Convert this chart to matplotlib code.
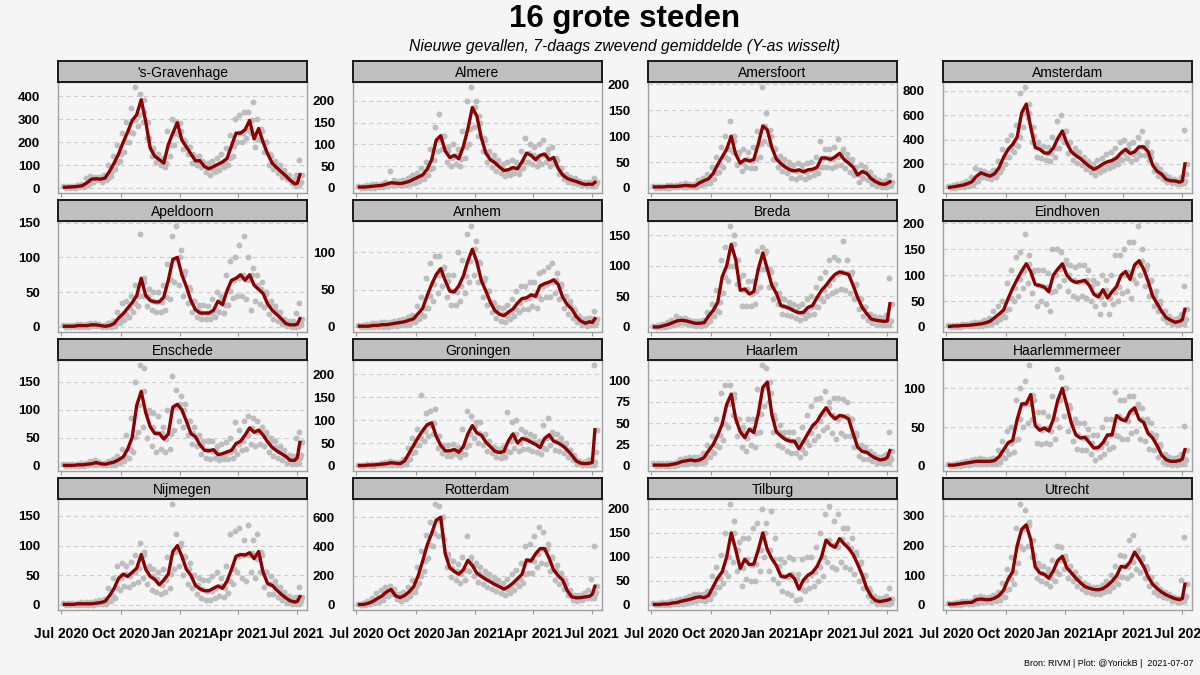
import matplotlib
matplotlib.use('Agg')
import matplotlib.pyplot as plt
import matplotlib.dates as mdates
from matplotlib.ticker import MultipleLocator
import numpy as np
import pandas as pd

plt.rcParams['font.family'] = ['Liberation Sans', 'DejaVu Sans']

# weekly sample dates, last two points catch the final uptick
weeks = list(pd.date_range('2020-07-06', '2021-06-28', freq='7D')) + \
    [pd.Timestamp('2021-07-02'), pd.Timestamp('2021-07-06')]

# 7-day average (line), upper and lower spread of the daily dots
gravenhage_avg = [5,6,7,9,12,25,40,42,40,45,75,110,150,200,245,295,320,385,290,175,140,125,110,190,240,285,210,180,150,120,120,95,85,95,105,115,130,185,240,240,255,295,215,260,200,150,110,90,72,55,35,20,22,60]
gravenhage_hi = [10,10,12,15,20,45,55,50,50,60,100,140,190,240,290,350,440,410,330,220,170,150,130,250,300,290,250,200,180,140,140,115,110,120,130,150,175,230,300,320,330,330,375,300,250,200,140,120,100,80,60,35,60,125]
gravenhage_lo = [2,3,3,5,8,15,30,35,30,35,55,85,120,160,200,240,270,290,220,140,115,100,95,140,190,230,170,150,110,100,95,70,60,70,80,95,100,140,200,200,220,240,180,210,160,100,85,65,50,40,25,12,15,30]

almere_avg = [2,2,3,4,5,6,9,12,11,10,12,15,20,25,30,43,65,110,120,85,70,75,67,95,135,185,165,115,80,65,58,48,40,42,47,44,60,80,75,65,75,78,65,70,45,30,22,18,15,11,8,9,8,13]
almere_hi = [4,5,6,8,10,10,14,40,18,16,18,22,30,35,45,60,90,140,170,120,95,100,90,130,200,232,200,150,110,85,75,65,55,60,65,60,85,115,100,95,100,110,90,95,65,45,32,25,22,17,14,14,14,22]
almere_lo = [0,0,1,1,2,3,5,7,6,6,7,9,12,16,20,30,45,85,90,60,50,55,50,70,100,140,120,85,60,48,40,35,28,30,35,32,45,60,55,50,55,60,50,55,32,20,14,12,9,6,4,5,5,8]

amersfoort_avg = [2,2,2,3,3,3,4,5,4,4,10,14,18,28,45,60,75,100,65,48,55,52,55,85,120,112,78,56,47,40,35,33,35,31,35,36,40,58,58,55,60,67,55,48,40,25,32,28,18,12,8,7,9,12]
amersfoort_hi = [4,4,4,5,6,6,8,9,8,8,16,20,26,40,60,80,100,130,90,70,75,70,80,110,195,145,100,75,62,55,50,45,48,45,48,50,60,90,75,75,80,95,75,65,55,40,45,40,30,22,16,12,15,25]
amersfoort_lo = [0,0,0,0,1,1,1,2,1,1,5,8,10,18,30,40,55,70,45,33,40,38,38,60,90,85,55,40,33,28,20,18,22,18,22,25,28,40,40,38,42,45,38,30,25,12,20,15,8,4,2,2,3,5]

amsterdam_avg = [8,13,20,26,38,55,100,127,112,100,120,170,255,320,360,420,620,690,500,335,320,290,288,330,410,470,370,300,268,244,210,180,155,175,200,218,228,250,290,320,285,300,340,340,300,190,140,115,73,62,60,50,60,200]
amsterdam_hi = [20,25,35,45,60,90,170,150,140,125,150,220,320,400,440,520,780,830,620,430,380,350,340,420,550,600,470,380,330,300,260,220,200,230,250,280,300,330,380,400,360,380,420,470,380,260,190,160,110,90,75,70,90,480]
amsterdam_lo = [3,5,8,12,20,30,60,95,85,75,90,130,200,260,300,350,500,580,380,260,250,230,220,260,330,380,290,230,210,190,160,130,110,130,150,165,180,200,230,250,220,240,270,270,230,140,100,80,50,40,35,32,40,120]

apeldoorn_avg = [1,1,1,2,2,2,3,3,2,1,2,5,13,19,27,35,45,70,45,38,36,36,43,67,97,100,75,58,38,25,20,20,20,24,37,32,52,67,70,75,67,75,60,54,48,33,24,18,12,5,3,3,4,12]
apeldoorn_hi = [3,3,3,4,4,4,5,5,4,3,5,9,22,35,38,45,60,133,65,55,50,50,60,90,130,145,110,80,55,38,32,32,30,40,50,45,75,95,100,118,130,100,85,75,65,50,38,30,22,12,8,8,20,35]
apeldoorn_lo = [0,0,0,0,0,0,1,1,0,0,0,2,6,10,15,22,30,45,30,25,22,22,25,40,65,60,45,35,22,15,12,12,12,14,22,20,32,42,45,45,40,25,38,33,28,18,12,8,4,1,0,0,1,4]

arnhem_avg = [1,1,1,2,2,3,3,4,5,6,7,9,11,18,25,42,57,70,78,62,48,47,55,68,88,104,87,62,48,33,22,17,15,20,24,32,38,39,43,41,55,58,60,63,57,40,30,24,14,8,5,7,6,11]
arnhem_hi = [3,3,4,5,5,6,7,7,8,9,10,13,16,28,40,65,85,95,95,80,70,70,100,90,125,135,115,85,65,48,32,27,25,30,38,48,55,55,60,60,72,75,80,85,72,55,42,35,22,15,10,12,12,22]
arnhem_lo = [0,0,0,0,0,0,0,1,1,2,3,4,6,10,14,25,35,45,55,40,30,30,35,45,60,70,60,40,30,20,12,8,6,10,14,20,24,24,28,26,38,40,40,45,38,25,18,12,6,2,1,2,2,5]

breda_avg = [0,0,2,4,7,10,11,10,8,6,6,7,18,27,40,82,100,135,110,60,62,54,58,95,121,95,68,55,35,33,30,26,23,24,32,35,48,60,68,78,86,90,88,86,68,48,32,22,13,11,10,9,10,38]
breda_hi = [2,3,5,8,12,18,15,14,12,10,10,12,25,38,60,110,130,165,150,80,85,75,75,125,130,125,90,70,48,45,40,38,35,38,45,50,65,80,90,110,115,110,140,110,90,70,45,32,22,18,16,15,20,80]
breda_lo = [0,0,0,1,3,5,6,5,4,2,2,3,10,18,25,55,75,100,70,35,35,35,38,65,95,65,45,38,22,20,18,15,12,14,20,22,32,42,50,55,58,62,60,55,45,30,18,12,6,4,3,3,4,10]

eindhoven_avg = [1,2,2,3,3,4,5,6,8,11,18,25,33,55,75,92,108,122,107,82,80,77,68,100,112,122,100,90,86,88,90,80,63,58,72,56,68,78,100,107,92,120,128,112,88,60,45,30,18,13,9,11,14,34]
eindhoven_hi = [3,4,4,6,6,8,9,10,13,18,30,40,50,85,110,135,145,180,140,110,110,110,105,150,150,145,130,120,115,120,120,110,90,85,100,90,100,140,140,150,165,165,195,150,120,90,70,50,30,22,16,18,25,80]
eindhoven_lo = [0,0,0,1,1,1,2,2,3,5,10,15,20,35,50,60,75,85,65,40,50,45,30,70,80,90,70,60,55,60,55,50,40,25,45,25,45,50,65,70,55,85,100,80,60,40,30,18,10,6,4,5,6,15]

enschede_avg = [1,1,1,2,2,3,4,6,4,3,5,7,11,16,30,51,108,133,95,70,58,58,48,57,105,110,100,80,58,52,38,28,27,29,20,22,25,28,40,44,55,68,60,64,55,43,33,27,22,17,10,10,15,42]
enschede_hi = [3,3,3,4,5,6,8,10,7,6,8,12,18,30,55,85,150,180,175,100,95,90,70,100,160,135,125,110,80,70,55,45,45,45,35,40,42,50,78,65,80,90,85,80,70,60,50,45,35,28,20,18,50,60]
enschede_lo = [0,0,0,0,0,1,1,2,1,1,2,2,5,8,15,25,60,70,50,35,25,30,25,30,65,80,70,55,40,35,22,15,12,15,10,12,12,15,22,28,30,40,35,40,35,25,18,14,10,6,3,3,5,20]

groningen_avg = [1,1,2,2,3,4,5,7,6,5,11,28,45,62,77,90,94,65,45,33,33,36,30,42,70,88,72,67,52,42,32,29,32,55,70,50,60,57,52,47,40,60,68,54,50,44,35,24,11,6,5,6,8,79]
groningen_hi = [3,3,4,4,5,6,8,10,9,8,16,40,60,80,155,115,120,125,65,45,45,48,42,80,120,110,95,95,70,55,42,38,42,118,95,100,80,75,70,65,55,90,105,75,70,60,50,35,18,10,8,12,15,220]
groningen_lo = [0,0,0,0,1,1,2,3,2,2,5,15,30,45,55,65,70,40,28,22,22,25,20,25,45,60,50,45,32,28,20,18,20,30,40,32,38,38,32,30,25,38,45,35,32,28,20,12,4,2,1,2,3,30]

haarlem_avg = [1,1,1,1,2,3,5,6,7,6,7,10,18,25,36,49,72,84,55,40,33,43,39,61,92,98,60,40,35,31,29,29,20,29,38,47,52,61,68,60,55,59,58,55,38,22,17,16,12,9,7,8,10,18]
haarlem_hi = [3,3,3,3,4,5,8,9,11,10,10,15,25,35,55,85,95,95,80,55,45,55,55,90,118,115,85,55,48,40,40,40,32,45,60,70,78,80,88,75,80,80,78,75,55,35,25,22,18,14,10,12,14,40]
haarlem_lo = [0,0,0,0,0,1,2,2,3,2,3,5,10,15,22,30,45,60,35,22,18,25,22,40,70,75,40,25,22,18,15,15,10,15,25,30,35,42,45,38,32,38,35,35,22,12,8,8,6,4,3,3,4,8]

haarlemmermeer_avg = [1,1,2,3,4,5,6,6,6,6,7,12,21,30,33,60,80,80,92,52,46,49,45,60,85,100,78,55,40,36,37,30,23,24,30,40,40,65,60,58,70,75,60,56,42,36,26,14,8,6,6,7,9,21]
haarlemmermeer_hi = [3,3,4,5,6,8,9,10,9,9,10,20,32,45,50,85,100,110,130,85,70,70,65,90,125,115,100,75,60,55,55,48,40,40,50,60,60,95,85,85,90,90,80,75,60,55,40,28,15,12,10,12,15,52]
haarlemmermeer_lo = [0,0,0,1,1,2,2,2,2,2,3,5,10,15,18,35,50,55,60,30,28,30,28,35,50,65,45,32,22,20,20,15,8,12,15,22,25,38,35,35,42,45,35,32,22,20,12,5,2,1,1,2,3,8]

nijmegen_avg = [1,1,1,2,2,2,2,3,4,6,16,28,45,52,48,55,62,85,60,48,43,34,42,52,90,100,82,60,50,33,27,24,24,28,32,28,40,60,82,85,84,88,78,90,55,36,33,25,18,12,7,5,6,14]
nijmegen_hi = [3,3,3,4,5,5,5,6,8,10,28,45,65,70,65,72,85,105,90,65,60,55,60,80,170,120,105,80,70,50,45,42,42,48,55,45,65,120,125,130,110,135,110,120,85,55,48,40,30,22,15,12,14,30]
nijmegen_lo = [0,0,0,0,0,0,0,1,1,2,6,12,25,32,30,35,38,45,35,25,22,18,22,28,60,65,50,35,28,18,12,8,8,12,15,14,20,35,55,45,40,55,45,55,30,18,18,14,8,4,2,1,2,6]

rotterdam_avg = [3,4,12,25,45,62,90,106,62,50,65,90,125,200,300,410,490,580,600,350,255,229,210,240,305,270,218,195,175,158,140,125,108,125,150,180,210,308,300,350,385,385,320,240,200,170,100,55,49,50,55,60,75,128]
rotterdam_hi = [8,15,30,50,80,100,120,130,90,75,90,120,170,260,370,480,570,690,680,450,320,300,280,330,470,330,290,260,230,210,190,170,150,180,210,240,290,400,420,470,530,500,420,330,270,220,140,80,65,70,80,100,180,400]
rotterdam_lo = [0,0,4,10,20,35,60,75,40,30,40,60,90,150,230,320,400,470,480,260,190,170,150,170,230,200,160,140,120,110,95,80,65,80,100,130,150,220,220,260,290,280,230,170,140,110,65,35,30,35,45,45,50,90]

tilburg_avg = [1,1,2,2,4,5,8,10,12,15,17,15,20,38,56,69,100,150,115,76,95,84,85,115,150,115,96,82,60,58,64,55,33,52,62,68,80,100,135,125,120,138,127,118,105,85,62,35,18,9,7,9,10,12]
tilburg_hi = [4,4,6,6,8,10,12,15,18,22,22,22,30,60,80,105,150,210,175,130,140,140,160,170,200,170,195,140,95,90,100,95,65,95,100,100,120,150,190,205,175,190,160,160,140,110,90,60,30,18,14,15,18,35]
tilburg_lo = [0,0,0,0,1,2,3,5,6,8,10,8,12,25,38,45,60,90,70,40,55,50,50,70,100,70,55,45,30,25,20,10,12,30,35,40,50,60,90,80,75,90,80,75,65,50,35,18,8,3,2,2,3,5]

utrecht_avg = [3,3,5,7,8,9,18,20,18,18,23,32,50,87,112,200,255,270,220,128,108,103,90,115,150,164,125,108,90,75,62,56,52,51,55,66,80,98,130,127,145,178,155,130,95,70,55,43,34,27,21,18,22,70]
utrecht_hi = [6,7,9,12,14,15,28,30,26,26,32,45,75,120,160,260,340,320,280,170,140,130,120,150,200,195,150,130,110,90,75,68,62,62,68,80,100,130,170,165,220,235,185,160,120,90,70,55,45,36,28,25,85,230]
utrecht_lo = [0,0,1,2,3,3,8,10,9,9,12,18,28,55,70,140,190,200,160,90,80,75,65,80,105,120,90,80,65,55,45,40,38,38,42,48,60,70,95,90,100,120,110,90,65,45,35,28,22,15,10,10,12,30]

cities = ["'s-Gravenhage", 'Almere', 'Amersfoort', 'Amsterdam',
          'Apeldoorn', 'Arnhem', 'Breda', 'Eindhoven',
          'Enschede', 'Groningen', 'Haarlem', 'Haarlemmermeer',
          'Nijmegen', 'Rotterdam', 'Tilburg', 'Utrecht']
# y-axis break spacing per facet
tick_steps = [100, 50, 50, 200, 50, 50, 50, 50, 50, 50, 25, 50, 50, 200, 50, 100]
series = [
    (gravenhage_avg, gravenhage_hi, gravenhage_lo),
    (almere_avg, almere_hi, almere_lo),
    (amersfoort_avg, amersfoort_hi, amersfoort_lo),
    (amsterdam_avg, amsterdam_hi, amsterdam_lo),
    (apeldoorn_avg, apeldoorn_hi, apeldoorn_lo),
    (arnhem_avg, arnhem_hi, arnhem_lo),
    (breda_avg, breda_hi, breda_lo),
    (eindhoven_avg, eindhoven_hi, eindhoven_lo),
    (enschede_avg, enschede_hi, enschede_lo),
    (groningen_avg, groningen_hi, groningen_lo),
    (haarlem_avg, haarlem_hi, haarlem_lo),
    (haarlemmermeer_avg, haarlemmermeer_hi, haarlemmermeer_lo),
    (nijmegen_avg, nijmegen_hi, nijmegen_lo),
    (rotterdam_avg, rotterdam_hi, rotterdam_lo),
    (tilburg_avg, tilburg_hi, tilburg_lo),
    (utrecht_avg, utrecht_hi, utrecht_lo),
]

BG = '#f5f5f5'
W, H = 1200, 675
col_left = [58, 353, 648, 943]
row_top = [82, 221, 360, 499]
pw, ph, sh = 249, 111, 21

fig = plt.figure(figsize=(12, 6.75), dpi=100, facecolor=BG)
d = np.array(weeks, dtype='datetime64[D]')

for k, name in enumerate(cities):
    avg, hi, lo = series[k]
    r, c = divmod(k, 4)
    ax = fig.add_axes([col_left[c] / W, 1 - (row_top[r] + ph) / H, pw / W, ph / H])
    ax.set_facecolor(BG)
    dot = dict(s=18, color='#bdbdbd', linewidths=0, zorder=2)
    ax.scatter(d - np.timedelta64(2, 'D'), hi, **dot)
    ax.scatter(d + np.timedelta64(2, 'D'), lo, **dot)
    ax.scatter(d + np.timedelta64(4, 'D'), avg, **dot)
    ax.plot(d, avg, color='#8b0000', lw=2.4, zorder=3, solid_joinstyle='round')

    ymin, ymax = min(lo), max(hi)
    span = ymax - ymin
    ax.set_ylim(ymin - 0.05 * span, ymax + 0.05 * span)
    ax.yaxis.set_major_locator(MultipleLocator(tick_steps[k]))
    ax.grid(axis='y', color='#cccccc', lw=0.8, ls=(0, (4, 3)), zorder=1)
    ax.set_axisbelow(True)

    ax.set_xlim(np.datetime64('2020-06-26'), np.datetime64('2021-07-17'))
    ax.xaxis.set_major_locator(mdates.MonthLocator(bymonth=[1, 4, 7, 10]))
    ax.xaxis.set_major_formatter(mdates.DateFormatter('%b %Y'))
    ax.tick_params(axis='y', length=0, pad=13, labelsize=9.5)
    ax.tick_params(axis='x', length=3, color='#999999', pad=9, labelsize=10,
                   labelbottom=(r == 3))
    for lab in ax.get_yticklabels() + ax.get_xticklabels():
        lab.set_fontweight('bold')
    for sp in ax.spines.values():
        sp.set_color('#a0a0a0')
        sp.set_linewidth(1.0)

    sax = fig.add_axes([col_left[c] / W, 1 - row_top[r] / H, pw / W, sh / H])
    sax.set_facecolor('#bfbfbf')
    sax.set_xticks([])
    sax.set_yticks([])
    for sp in sax.spines.values():
        sp.set_color('#1a1a1a')
        sp.set_linewidth(1.4)
    sax.text(0.5, 0.45, name, ha='center', va='center', fontsize=10,
             transform=sax.transAxes)

fig.text(625 / W, 1 - 19 / H, '16 grote steden', ha='center', va='center',
         fontsize=22.5, fontweight='bold')
fig.text(625 / W, 1 - 47 / H, 'Nieuwe gevallen, 7-daags zwevend gemiddelde (Y-as wisselt)',
         ha='center', va='center', fontsize=11.3, style='italic')
fig.text(1193 / W, 1 - 663 / H, 'Bron: RIVM | Plot: @YorickB |  2021-07-07',
         ha='right', va='center', fontsize=6.5)

fig.savefig('out.png', dpi=100, facecolor=BG)
